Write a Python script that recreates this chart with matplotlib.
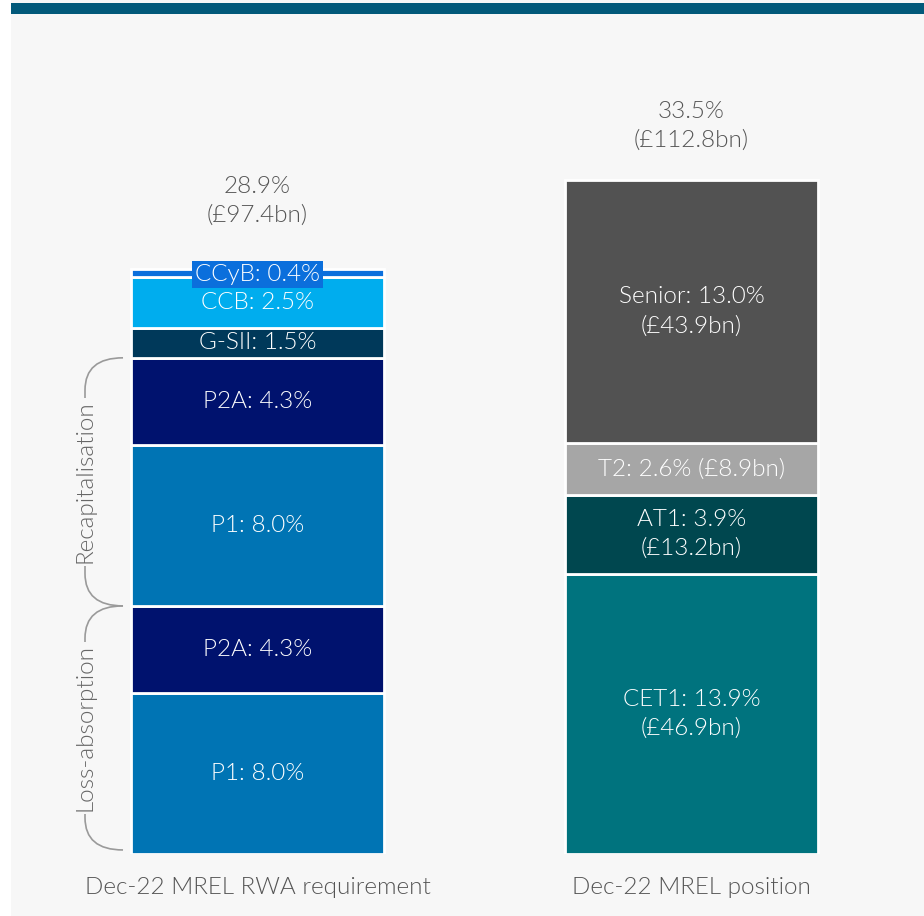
import numpy as np
import matplotlib.pyplot as plt
from matplotlib.patches import Rectangle, PathPatch
from matplotlib.path import Path

# requirement stack (bottom -> top), % of RWA
req_labels = ["P1", "P2A", "P1", "P2A", "G-SII", "CCB", "CCyB"]
req_values = [8.0, 4.3, 8.0, 4.3, 1.5, 2.5, 0.4]
req_total = (28.9, 97.4)

# position stack (bottom -> top), % of RWA and £bn
pos_labels = ["CET1", "AT1", "T2", "Senior"]
pos_values = [13.9, 3.9, 2.6, 13.0]
pos_bn = [46.9, 13.2, 8.9, 43.9]
pos_total = (33.5, 112.8)

categories = ["Dec-22 MREL RWA requirement", "Dec-22 MREL position"]

REQ_COLORS = ["#0074b4", "#00126e", "#0074b4", "#00126e", "#00395a", "#00adee", "#0b6fdc"]
POS_COLORS = ["#00737e", "#00474f", "#a6a6a6", "#525252"]
BG = "#f7f7f7"
GREY_TXT = "#555555"
FS = 17.5
WT = 300

plt.rcParams["font.family"] = ["Lato", "DejaVu Sans"]

W, H = 924, 916
fig = plt.figure(figsize=(W / 100, H / 100), dpi=100, facecolor="white")
fig.patches.append(Rectangle((11 / W, 0), 1, 1, transform=fig.transFigure,
                             facecolor=BG, edgecolor="none", zorder=-10))
fig.patches.append(Rectangle((11 / W, (H - 14) / H), 1, 11 / H, transform=fig.transFigure,
                             facecolor="#02597a", edgecolor="none", zorder=-9))

# axes: y=0 at pixel 854, ~20.17 px per %
px_per = 20.17
ytop = 40
ax = fig.add_axes([0, (H - 854) / H, 1, ytop * px_per / H])
ax.set_facecolor("none")
ax.set_ylim(0, ytop)
gap = 434.0
ax.set_xlim(-257.5 / gap, (W - 257.5) / gap)
ax.axis("off")

bw = 253 / gap
xs = [0, 1]


def stack(x, values, colors):
    bottoms = np.concatenate([[0], np.cumsum(values)[:-1]])
    ax.bar([x] * len(values), values, bottom=bottoms, width=bw, color=colors,
           edgecolor="white", linewidth=2)
    return bottoms


txt = dict(color="white", fontsize=FS, fontweight=WT, ha="center", va="center",
           linespacing=1.45)

b = stack(xs[0], req_values, REQ_COLORS)
for lab, v, bot in zip(req_labels, req_values, b):
    s = f"{lab}: {v:.1f}%"
    if lab == "CCyB":
        ax.text(xs[0], bot + v / 2 - 0.05, s,
                bbox=dict(boxstyle="square,pad=0.12", facecolor=REQ_COLORS[-1], edgecolor="none"),
                **txt)
    else:
        ax.text(xs[0], bot + v / 2, s, **txt)

b = stack(xs[1], pos_values, POS_COLORS)
for lab, v, bn, bot in zip(pos_labels, pos_values, pos_bn, b):
    sep = " " if lab == "T2" else "\n"
    ax.text(xs[1], bot + v / 2, f"{lab}: {v:.1f}%{sep}(£{bn:.1f}bn)", **txt)

# totals above bars
for x, vals, tot, off in [(xs[0], req_values, req_total, 68), (xs[1], pos_values, pos_total, 54)]:
    ax.annotate(f"{tot[0]:.1f}%\n(£{tot[1]:.1f}bn)", xy=(x, sum(vals)), xytext=(0, off),
                textcoords="offset pixels", ha="center", va="center", fontsize=FS,
                color=GREY_TXT, fontweight=WT, linespacing=1.45)

for x, c in zip(xs, categories):
    ax.annotate(c, xy=(x, 0), xytext=(0, -34), textcoords="offset pixels",
                ha="center", va="center", fontsize=FS, color=GREY_TXT, fontweight=WT)

# braces to the left of the requirement bar
cum = np.cumsum(req_values)
tip = xs[0] - bw / 2 - 8 / gap
spine = xs[0] - bw / 2 - 46 / gap
r = 1.6


def brace(y0, y1, label):
    verts = [(tip, y1), (spine, y1), (spine, y1 - r),
             (spine, y0 + r), (spine, y0), (tip, y0)]
    codes = [Path.MOVETO, Path.CURVE3, Path.CURVE3, Path.LINETO, Path.CURVE3, Path.CURVE3]
    ax.add_patch(PathPatch(Path(verts, codes), facecolor="none", edgecolor="#9a9a9a", lw=1.2))
    ax.text(spine, (y0 + y1) / 2, label, rotation=90, ha="center", va="center",
            fontsize=FS, color="#666666", fontweight=WT,
            bbox=dict(boxstyle="square,pad=0.12", facecolor=BG, edgecolor="none"))


brace(0.2, cum[1], "Loss-absorption")
brace(cum[1], cum[3], "Recapitalisation")

fig.savefig("out.png", dpi=100, facecolor=fig.get_facecolor())
